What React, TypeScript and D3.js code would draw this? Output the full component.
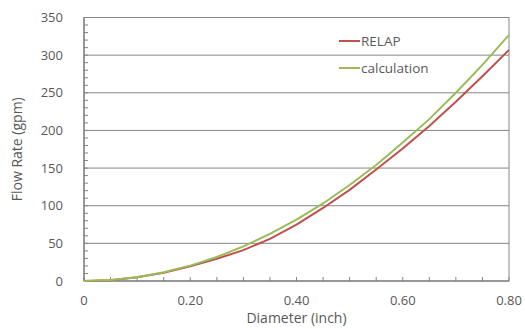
import React from "react";
import * as d3 from "d3";

// values
const diameters = [0, 0.05, 0.1, 0.15, 0.2, 0.25, 0.3, 0.35, 0.4, 0.45, 0.5, 0.55, 0.6, 0.65, 0.7, 0.75, 0.8];
const relap = [0, 1, 5, 11, 19.5, 29.5, 41, 56, 75, 97, 121, 148, 176, 206, 238, 272, 307];
const calculation = [0, 1.3, 5.1, 11.5, 20.4, 31.9, 45.9, 62.5, 81.6, 103, 127.5, 154, 184, 215, 250, 287, 327];
const yTicks = [0, 50, 100, 150, 200, 250, 300, 350];
const xTicks = [0, 0.2, 0.4, 0.6, 0.8];
const xTickLabels = ["0", "0.20", "0.40", "0.60", "0.80"];

const W = 525;
const H = 329;
const m = { left: 84, right: 16, top: 17.5, bottom: 48 };
const font = "'Open Sans', Lato, sans-serif";
const grey = "#868686";
const textColor = "#595959";

export default function App() {
  const x = d3.scaleLinear().domain([0, 0.8]).range([m.left, W - m.right]);
  const y = d3.scaleLinear().domain([0, 350]).range([H - m.bottom, m.top]);

  const line = d3
    .line<number>()
    .x((_, i) => x(diameters[i]))
    .y((v) => y(v));

  const minorY = d3.range(0, 351, 10);
  const minorX = d3.range(0, 0.8001, 0.05);

  const series = [
    { name: "RELAP", values: relap, color: "#C0504D" },
    { name: "calculation", values: calculation, color: "#9BBB59" },
  ];

  return (
    <svg
      width={W}
      height={H}
      style={{ position: "absolute", left: 0, top: 0, background: "#fff" }}
      fontFamily={font}
    >
      {yTicks.slice(1).map((t) => (
        <line key={t} x1={x(0)} x2={x(0.8)} y1={y(t)} y2={y(t)} stroke={grey} strokeWidth={1} />
      ))}
      <rect
        x={x(0)}
        y={y(350)}
        width={x(0.8) - x(0)}
        height={y(0) - y(350)}
        fill="none"
        stroke={grey}
        strokeWidth={1}
      />
      {minorY.map((t) => (
        <line key={"my" + t} x1={x(0)} x2={x(0) + 4} y1={y(t)} y2={y(t)} stroke={grey} />
      ))}
      {minorX.map((t) => (
        <line key={"mx" + t} x1={x(t)} x2={x(t)} y1={y(0)} y2={y(0) - 4} stroke={grey} />
      ))}
      <line x1={x(0)} x2={x(0)} y1={y(0)} y2={y(350)} stroke="#6f6f6f" />
      <line x1={x(0)} x2={x(0.8)} y1={y(0)} y2={y(0)} stroke="#6f6f6f" />

      {series.map((s) => (
        <path key={s.name} d={line(s.values) || ""} fill="none" stroke={s.color} strokeWidth={2} />
      ))}

      {yTicks.map((t) => (
        <text
          key={"yl" + t}
          x={63}
          y={y(t)}
          dy="0.35em"
          textAnchor="end"
          fontSize={13}
          fill={textColor}
        >
          {t}
        </text>
      ))}
      {xTicks.map((t, i) => (
        <text
          key={"xl" + t}
          x={x(t)}
          y={305}
          textAnchor="middle"
          fontSize={13}
          fill={textColor}
        >
          {xTickLabels[i]}
        </text>
      ))}
      <text x={(x(0) + x(0.8)) / 2} y={323} textAnchor="middle" fontSize={14} fill={textColor}>
        Diameter (inch)
      </text>
      <text
        transform={`translate(22,${(y(0) + y(350)) / 2}) rotate(-90)`}
        textAnchor="middle"
        fontSize={14}
        fill={textColor}
      >
        Flow Rate (gpm)
      </text>

      {series.map((s, i) => (
        <g key={"lg" + s.name} transform={`translate(339,${41 + i * 27})`}>
          <line x1={0} x2={21} y1={0} y2={0} stroke={s.color} strokeWidth={2} />
          <text x={22} y={0} dy="0.35em" fontSize={13.5} fill={textColor}>
            {s.name}
          </text>
        </g>
      ))}
    </svg>
  );
}
